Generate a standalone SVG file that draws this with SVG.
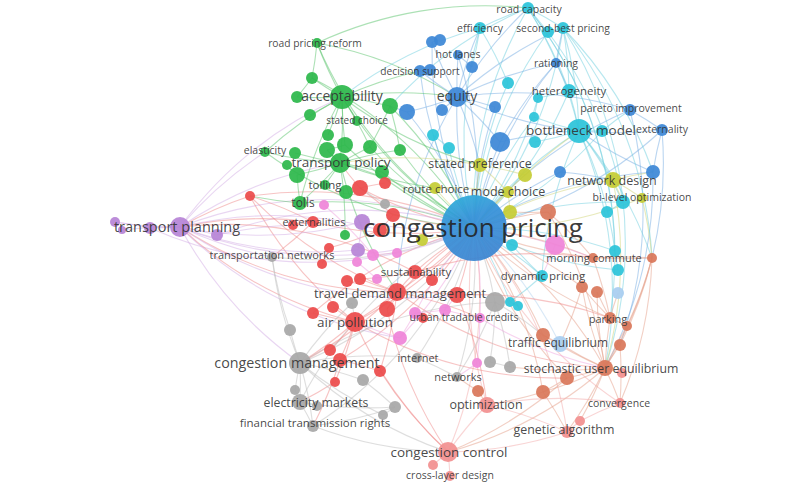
<svg xmlns="http://www.w3.org/2000/svg" width="800" height="485" viewBox="0 0 800 485">
<defs>
<linearGradient id="hubg" x1="0" y1="0" x2="0.4" y2="1">
<stop offset="0" stop-color="#2bb4da"/>
<stop offset="0.45" stop-color="#3491d8"/>
<stop offset="1" stop-color="#3b86d2"/>
</linearGradient>
</defs>
<style>
#connectors path{fill:none;stroke-width:1.1;stroke-opacity:.5}
.eg{stroke:#59c46c}.eb{stroke:#78aee4}.ec{stroke:#6fd0e0}.er{stroke:#f08a8a}.ep{stroke:#d4aee6}
.ek{stroke:#bdbdbd}.eo{stroke:#e6a08a}.ey{stroke:#d2d57a}.ei{stroke:#f0a6e0}.el{stroke:#f4acac}.elb{stroke:#b4d4f0}
circle{fill-opacity:.93}
.cg{fill:#2db84b}.cb{fill:#3d88d6}.cc{fill:#2cc4d9}.cr{fill:#ec4b4b}.cp{fill:#b784d6}.ck{fill:#a8a8a8}
.co{fill:#d9775a}.cy{fill:#c5cc35}.ci{fill:#ef84d8}.cl{fill:#f29090}.clb{fill:#a9cdf0}
text{font-family:"Open Sans","Liberation Sans",sans-serif;fill:#333;fill-opacity:.9;text-anchor:middle}
</style>
<rect width="800" height="485" fill="#fff"/>
<g id="connectors">
<path class="ec" d="M474 228A400 400 0 0 1 528 8"/>
<path class="ec" d="M474 228A400 400 0 0 1 480 28"/>
<path class="ec" d="M474 228A400 400 0 0 0 563 28"/>
<path class="ec" d="M474 228A400 400 0 0 1 548 32"/>
<path class="ec" d="M474 228A400 400 0 0 0 569 91"/>
<path class="ec" d="M474 228A400 400 0 0 1 579 131"/>
<path class="ec" d="M474 228A400 400 0 0 0 602 131"/>
<path class="ec" d="M474 228A400 400 0 0 1 508 83"/>
<path class="ec" d="M474 228A400 400 0 0 1 623 202"/>
<path class="ec" d="M474 228A400 400 0 0 1 542 276"/>
<path class="ec" d="M474 228A400 400 0 0 1 615 251"/>
<path class="ec" d="M474 228A400 400 0 0 0 618 270"/>
<path class="ec" d="M474 228A400 400 0 0 1 534 117"/>
<path class="ec" d="M474 228A400 400 0 0 0 538 98"/>
<path class="ec" d="M474 228A400 400 0 0 1 433 135"/>
<path class="ec" d="M474 228A400 400 0 0 1 449 148"/>
<path class="ec" d="M474 228A400 400 0 0 1 512 245"/>
<path class="ec" d="M474 228A400 400 0 0 1 510 302"/>
<path class="eb" d="M474 228A400 400 0 0 1 457 97"/>
<path class="eb" d="M474 228A400 400 0 0 1 420 71"/>
<path class="eb" d="M474 228A400 400 0 0 0 458 55"/>
<path class="eb" d="M474 228A400 400 0 0 1 432 42"/>
<path class="eb" d="M474 228A400 400 0 0 0 407 112"/>
<path class="eb" d="M474 228A400 400 0 0 1 495 107"/>
<path class="eb" d="M474 228A400 400 0 0 1 500 142"/>
<path class="eb" d="M474 228A400 400 0 0 1 556 63"/>
<path class="eb" d="M474 228A400 400 0 0 1 630 110"/>
<path class="eb" d="M474 228A400 400 0 0 0 662 130"/>
<path class="eb" d="M474 228A400 400 0 0 1 560 172"/>
<path class="eb" d="M474 228A400 400 0 0 1 653 172"/>
<path class="eg" d="M474 228A400 400 0 0 1 342 97"/>
<path class="eg" d="M474 228A400 400 0 0 1 317 43"/>
<path class="eg" d="M474 228A400 400 0 0 0 390 106"/>
<path class="eg" d="M474 228A400 400 0 0 1 370 147"/>
<path class="eg" d="M474 228A400 400 0 0 1 400 150"/>
<path class="eg" d="M474 228A400 400 0 0 0 340 163"/>
<path class="eg" d="M474 228A400 400 0 0 1 382 172"/>
<path class="eg" d="M474 228A400 400 0 0 1 265 152"/>
<path class="eg" d="M474 228A400 400 0 0 0 300 203"/>
<path class="eg" d="M474 228A400 400 0 0 1 345 145"/>
<path class="eg" d="M474 228A400 400 0 0 0 312 78"/>
<path class="ey" d="M474 228A400 400 0 0 1 480 165"/>
<path class="ey" d="M474 228A400 400 0 0 1 525 175"/>
<path class="ey" d="M474 228A400 400 0 0 1 435 188"/>
<path class="ey" d="M474 228A400 400 0 0 1 613 180"/>
<path class="ey" d="M474 228A400 400 0 0 0 642 198"/>
<path class="ey" d="M474 228A400 400 0 0 1 508 192"/>
<path class="ey" d="M474 228A400 400 0 0 1 510 212"/>
<path class="ey" d="M474 228A400 400 0 0 1 422 240"/>
<path class="er" d="M474 228A400 400 0 0 1 397 292"/>
<path class="er" d="M474 228A400 400 0 0 1 355 322"/>
<path class="er" d="M474 228A400 400 0 0 0 415 272"/>
<path class="er" d="M474 228A400 400 0 0 0 250 196"/>
<path class="er" d="M474 228A400 400 0 0 1 360 188"/>
<path class="er" d="M474 228A400 400 0 0 1 393 215"/>
<path class="er" d="M474 228A400 400 0 0 1 457 295"/>
<path class="er" d="M474 228A400 400 0 0 0 387 309"/>
<path class="er" d="M474 228A400 400 0 0 1 340 360"/>
<path class="er" d="M474 228A400 400 0 0 1 313 222"/>
<path class="er" d="M474 228A400 400 0 0 0 313 313"/>
<path class="ep" d="M474 228A400 400 0 0 1 180 227"/>
<path class="ep" d="M474 228A400 400 0 0 0 180 227"/>
<path class="ep" d="M474 228A400 400 0 0 1 362 222"/>
<path class="ep" d="M474 228A400 400 0 0 0 217 235"/>
<path class="ep" d="M474 228A400 400 0 0 1 150 228"/>
<path class="ek" d="M474 228A400 400 0 0 1 300 363"/>
<path class="ek" d="M474 228A400 400 0 0 1 272 257"/>
<path class="ek" d="M474 228A400 400 0 0 0 300 402"/>
<path class="ek" d="M474 228A400 400 0 0 1 495 302"/>
<path class="ek" d="M474 228A400 400 0 0 1 417 358"/>
<path class="ek" d="M474 228A400 400 0 0 1 457 377"/>
<path class="ek" d="M474 228A400 400 0 0 1 313 426"/>
<path class="ei" d="M474 228A400 400 0 0 1 480 318"/>
<path class="ei" d="M474 228A400 400 0 0 1 400 338"/>
<path class="ei" d="M474 228A400 400 0 0 1 555 245"/>
<path class="ei" d="M474 228A400 400 0 0 0 415 313"/>
<path class="eo" d="M474 228A400 400 0 0 1 605 368"/>
<path class="eo" d="M474 228A400 400 0 0 0 610 318"/>
<path class="eo" d="M474 228A400 400 0 0 1 548 212"/>
<path class="eo" d="M474 228A400 400 0 0 1 593 258"/>
<path class="eo" d="M474 228A400 400 0 0 0 652 258"/>
<path class="eo" d="M474 228A400 400 0 0 1 543 335"/>
<path class="eo" d="M474 228A400 400 0 0 0 567 378"/>
<path class="eo" d="M474 228A400 400 0 0 1 543 392"/>
<path class="eo" d="M474 228A400 400 0 0 1 582 287"/>
<path class="el" d="M474 228A400 400 0 0 1 448 452"/>
<path class="el" d="M474 228A400 400 0 0 0 487 405"/>
<path class="el" d="M474 228A400 400 0 0 1 567 432"/>
<path class="el" d="M474 228A400 400 0 0 0 620 403"/>
<path class="elb" d="M474 228A400 400 0 0 1 560 344"/>
<path class="eg" d="M342 97A400 400 0 0 1 317 43"/>
<path class="eg" d="M342 97A400 400 0 0 1 312 78"/>
<path class="eg" d="M342 97A400 400 0 0 1 297 97"/>
<path class="eg" d="M342 97A400 400 0 0 1 390 106"/>
<path class="eg" d="M342 97A400 400 0 0 1 310 115"/>
<path class="eg" d="M342 97A400 400 0 0 1 357 121"/>
<path class="eg" d="M342 97A400 400 0 0 1 328 135"/>
<path class="eg" d="M342 97A400 400 0 0 1 340 163"/>
<path class="eg" d="M342 97A400 400 0 0 0 345 145"/>
<path class="eg" d="M342 97A400 400 0 0 1 370 147"/>
<path class="eg" d="M342 97A400 400 0 0 0 265 152"/>
<path class="eg" d="M342 97A400 400 0 0 0 300 203"/>
<path class="eg" d="M340 163A400 400 0 0 1 265 152"/>
<path class="eg" d="M340 163A400 400 0 0 1 295 153"/>
<path class="eg" d="M340 163A400 400 0 0 1 297 175"/>
<path class="eg" d="M340 163A400 400 0 0 1 327 150"/>
<path class="eg" d="M340 163A400 400 0 0 1 370 147"/>
<path class="eg" d="M340 163A400 400 0 0 1 382 172"/>
<path class="eg" d="M340 163A400 400 0 0 1 325 185"/>
<path class="eg" d="M340 163A400 400 0 0 1 300 203"/>
<path class="eg" d="M340 163A400 400 0 0 1 400 150"/>
<path class="eg" d="M390 106A400 400 0 0 1 400 150"/>
<path class="eg" d="M390 106A400 400 0 0 1 370 147"/>
<path class="eg" d="M317 43A400 400 0 0 1 312 78"/>
<path class="eg" d="M317 43A400 400 0 0 1 457 97"/>
<path class="eg" d="M342 97A400 400 0 0 1 457 97"/>
<path class="eg" d="M342 97A400 400 0 0 1 420 71"/>
<path class="eg" d="M340 163A400 400 0 0 0 435 188"/>
<path class="ep" d="M265 152A400 400 0 0 0 180 227"/>
<path class="eg" d="M300 203A400 400 0 0 1 297 175"/>
<path class="eg" d="M312 78A400 400 0 0 1 297 97"/>
<path class="eg" d="M345 145A400 400 0 0 1 327 150"/>
<path class="eg" d="M340 163A400 400 0 0 1 345 235"/>
<path class="eg" d="M342 97A400 400 0 0 0 480 165"/>
<path class="eg" d="M317 43A400 400 0 0 1 528 8"/>
<path class="eg" d="M340 163A400 400 0 0 0 397 292"/>
<path class="eg" d="M300 203A400 400 0 0 1 250 196"/>
<path class="eb" d="M457 97A400 400 0 0 1 420 71"/>
<path class="eb" d="M457 97A400 400 0 0 1 458 55"/>
<path class="eb" d="M457 97A400 400 0 0 1 432 42"/>
<path class="eb" d="M457 97A400 400 0 0 1 407 112"/>
<path class="eb" d="M457 97A400 400 0 0 1 442 110"/>
<path class="eb" d="M457 97A400 400 0 0 1 495 107"/>
<path class="eb" d="M457 97A400 400 0 0 1 500 142"/>
<path class="eb" d="M457 97A400 400 0 0 0 579 131"/>
<path class="eb" d="M457 97A400 400 0 0 1 528 8"/>
<path class="eb" d="M457 97A400 400 0 0 1 563 28"/>
<path class="eb" d="M457 97A400 400 0 0 1 480 28"/>
<path class="eb" d="M457 97A400 400 0 0 1 556 63"/>
<path class="eb" d="M457 97A400 400 0 0 1 630 110"/>
<path class="eb" d="M420 71A400 400 0 0 1 430 70"/>
<path class="eb" d="M458 55A400 400 0 0 1 472 67"/>
<path class="eb" d="M432 42A400 400 0 0 1 440 40"/>
<path class="eb" d="M500 142A400 400 0 0 1 579 131"/>
<path class="eb" d="M500 142A400 400 0 0 1 556 63"/>
<path class="eb" d="M630 110A400 400 0 0 1 662 130"/>
<path class="eb" d="M662 130A400 400 0 0 1 579 131"/>
<path class="eb" d="M653 172A400 400 0 0 1 579 131"/>
<path class="eb" d="M653 172A400 400 0 0 1 662 130"/>
<path class="eb" d="M556 63A400 400 0 0 1 563 28"/>
<path class="eb" d="M556 63A400 400 0 0 1 569 91"/>
<path class="eb" d="M407 112A400 400 0 0 1 390 106"/>
<path class="eb" d="M457 97A400 400 0 0 1 480 165"/>
<path class="eb" d="M457 97A400 400 0 0 0 397 292"/>
<path class="eb" d="M630 110A400 400 0 0 1 620 345"/>
<path class="eb" d="M662 130A400 400 0 0 1 652 258"/>
<path class="eb" d="M653 172A400 400 0 0 1 605 368"/>
<path class="eb" d="M560 172A400 400 0 0 1 613 180"/>
<path class="ec" d="M528 8A400 400 0 0 0 480 28"/>
<path class="ec" d="M528 8A400 400 0 0 1 563 28"/>
<path class="ec" d="M528 8A400 400 0 0 1 579 131"/>
<path class="ec" d="M528 8A400 400 0 0 1 569 91"/>
<path class="ec" d="M563 28A400 400 0 0 1 548 32"/>
<path class="ec" d="M563 28A400 400 0 0 1 579 131"/>
<path class="ec" d="M563 28A400 400 0 0 1 569 91"/>
<path class="ec" d="M480 28A400 400 0 0 1 508 83"/>
<path class="ec" d="M569 91A400 400 0 0 1 579 131"/>
<path class="ec" d="M569 91A400 400 0 0 1 538 98"/>
<path class="ec" d="M579 131A400 400 0 0 1 602 131"/>
<path class="ec" d="M579 131A400 400 0 0 1 534 117"/>
<path class="ec" d="M579 131A400 400 0 0 1 535 142"/>
<path class="ec" d="M579 131A400 400 0 0 1 613 180"/>
<path class="ec" d="M579 131A400 400 0 0 1 623 202"/>
<path class="ec" d="M602 131A400 400 0 0 1 630 110"/>
<path class="ec" d="M538 98A400 400 0 0 1 534 117"/>
<path class="ec" d="M433 135A400 400 0 0 1 449 148"/>
<path class="ec" d="M528 8A400 400 0 0 1 623 202"/>
<path class="ec" d="M563 28A400 400 0 0 1 653 172"/>
<path class="ec" d="M480 28A400 400 0 0 1 472 67"/>
<path class="ec" d="M542 276A400 400 0 0 1 512 245"/>
<path class="ec" d="M615 251A400 400 0 0 1 618 270"/>
<path class="ec" d="M623 202A400 400 0 0 1 607 212"/>
<path class="ec" d="M579 131A400 400 0 0 1 652 258"/>
<path class="ec" d="M528 8A400 400 0 0 1 615 251"/>
<path class="ec" d="M563 28A400 400 0 0 1 652 258"/>
<path class="ec" d="M563 28A400 400 0 0 1 605 368"/>
<path class="ec" d="M528 8A400 400 0 0 1 610 318"/>
<path class="ec" d="M579 131A400 400 0 0 1 615 251"/>
<path class="ec" d="M579 131A400 400 0 0 0 542 276"/>
<path class="ec" d="M542 276A400 400 0 0 1 510 302"/>
<path class="ec" d="M510 302A400 400 0 0 1 518 306"/>
<path class="ec" d="M528 8A400 400 0 0 0 390 106"/>
<path class="ec" d="M480 28A400 400 0 0 0 342 97"/>
<path class="ec" d="M579 131A400 400 0 0 1 605 368"/>
<path class="ey" d="M613 180A400 400 0 0 1 642 198"/>
<path class="ey" d="M613 180A400 400 0 0 1 623 202"/>
<path class="ey" d="M480 165A400 400 0 0 1 525 175"/>
<path class="ey" d="M508 192A400 400 0 0 1 510 212"/>
<path class="ey" d="M435 188A400 400 0 0 1 508 192"/>
<path class="ey" d="M480 165A400 400 0 0 1 508 192"/>
<path class="ey" d="M525 175A400 400 0 0 1 579 131"/>
<path class="ey" d="M613 180A400 400 0 0 1 653 172"/>
<path class="ey" d="M642 198A400 400 0 0 1 652 258"/>
<path class="ey" d="M613 180A400 400 0 0 1 605 368"/>
<path class="ey" d="M480 165A400 400 0 0 0 340 163"/>
<path class="er" d="M397 292A400 400 0 0 1 355 322"/>
<path class="er" d="M397 292A400 400 0 0 1 415 272"/>
<path class="er" d="M397 292A400 400 0 0 1 457 295"/>
<path class="er" d="M397 292A400 400 0 0 1 387 309"/>
<path class="er" d="M397 292A400 400 0 0 1 347 281"/>
<path class="er" d="M397 292A400 400 0 0 1 360 279"/>
<path class="er" d="M355 322A400 400 0 0 1 313 313"/>
<path class="er" d="M355 322A400 400 0 0 1 333 307"/>
<path class="er" d="M355 322A400 400 0 0 1 330 350"/>
<path class="er" d="M355 322A400 400 0 0 1 340 360"/>
<path class="er" d="M355 322A400 400 0 0 1 300 363"/>
<path class="er" d="M415 272A400 400 0 0 1 432 280"/>
<path class="er" d="M415 272A400 400 0 0 1 360 279"/>
<path class="er" d="M360 188A400 400 0 0 1 385 183"/>
<path class="er" d="M360 188A400 400 0 0 1 393 215"/>
<path class="er" d="M393 215A400 400 0 0 1 380 230"/>
<path class="er" d="M380 230A400 400 0 0 1 329 248"/>
<path class="er" d="M329 248A400 400 0 0 1 322 264"/>
<path class="er" d="M250 196A400 400 0 0 0 180 227"/>
<path class="er" d="M250 196A400 400 0 0 1 313 222"/>
<path class="er" d="M313 222A400 400 0 0 1 293 225"/>
<path class="er" d="M313 222A400 400 0 0 1 272 257"/>
<path class="er" d="M313 222A400 400 0 0 0 180 227"/>
<path class="er" d="M397 292A400 400 0 0 1 300 363"/>
<path class="er" d="M397 292A400 400 0 0 1 380 371"/>
<path class="er" d="M340 360A400 400 0 0 1 380 371"/>
<path class="er" d="M380 371A400 400 0 0 0 448 452"/>
<path class="er" d="M355 322A400 400 0 0 0 448 452"/>
<path class="er" d="M457 295A400 400 0 0 1 487 405"/>
<path class="er" d="M397 292A400 400 0 0 1 480 318"/>
<path class="er" d="M360 188A400 400 0 0 1 340 163"/>
<path class="er" d="M397 292A400 400 0 0 1 180 227"/>
<path class="er" d="M415 272A400 400 0 0 0 180 227"/>
<path class="er" d="M355 322A400 400 0 0 1 180 227"/>
<path class="er" d="M335 382A400 400 0 0 1 300 402"/>
<path class="er" d="M340 360A400 400 0 0 1 313 426"/>
<path class="er" d="M250 196A400 400 0 0 0 397 292"/>
<path class="er" d="M250 196A400 400 0 0 0 355 322"/>
<path class="er" d="M397 292A400 400 0 0 0 605 368"/>
<path class="er" d="M355 322A400 400 0 0 0 567 378"/>
<path class="er" d="M457 295A400 400 0 0 1 610 318"/>
<path class="er" d="M415 272A400 400 0 0 1 593 258"/>
<path class="er" d="M387 309A400 400 0 0 0 448 452"/>
<path class="er" d="M355 322A400 400 0 0 1 335 382"/>
<path class="ep" d="M180 227A400 400 0 0 1 115 222"/>
<path class="ep" d="M180 227A400 400 0 0 0 122 230"/>
<path class="ep" d="M180 227A400 400 0 0 1 150 228"/>
<path class="ep" d="M180 227A400 400 0 0 1 217 235"/>
<path class="ep" d="M115 222A400 400 0 0 1 150 228"/>
<path class="ep" d="M180 227A400 400 0 0 0 362 222"/>
<path class="ep" d="M180 227A400 400 0 0 0 358 250"/>
<path class="ep" d="M180 227A400 400 0 0 1 340 163"/>
<path class="ep" d="M180 227A400 400 0 0 0 272 257"/>
<path class="ep" d="M180 227A400 400 0 0 0 300 363"/>
<path class="ep" d="M362 222A400 400 0 0 1 358 250"/>
<path class="ep" d="M217 235A400 400 0 0 1 293 225"/>
<path class="ep" d="M180 227A400 400 0 0 0 400 338"/>
<path class="ep" d="M180 227A400 400 0 0 0 457 295"/>
<path class="ep" d="M180 227A400 400 0 0 1 342 97"/>
<path class="ep" d="M180 227A400 400 0 0 1 380 230"/>
<path class="ek" d="M300 363A400 400 0 0 1 290 330"/>
<path class="ek" d="M300 363A400 400 0 0 1 300 402"/>
<path class="ek" d="M300 363A400 400 0 0 1 313 426"/>
<path class="ek" d="M300 363A400 400 0 0 0 295 390"/>
<path class="ek" d="M300 363A400 400 0 0 1 363 380"/>
<path class="ek" d="M300 363A400 400 0 0 1 272 257"/>
<path class="ek" d="M300 402A400 400 0 0 1 313 426"/>
<path class="ek" d="M300 402A400 400 0 0 1 317 406"/>
<path class="ek" d="M300 402A400 400 0 0 1 295 390"/>
<path class="ek" d="M363 380A400 400 0 0 1 395 407"/>
<path class="ek" d="M395 407A400 400 0 0 1 383 415"/>
<path class="ek" d="M300 363A400 400 0 0 1 417 358"/>
<path class="ek" d="M417 358A400 400 0 0 1 457 377"/>
<path class="ek" d="M457 377A400 400 0 0 0 495 302"/>
<path class="ek" d="M495 302A400 400 0 0 1 490 362"/>
<path class="ek" d="M490 362A400 400 0 0 1 510 367"/>
<path class="ek" d="M300 363A400 400 0 0 1 352 303"/>
<path class="ek" d="M352 303A400 400 0 0 1 355 322"/>
<path class="ek" d="M300 363A400 400 0 0 0 448 452"/>
<path class="ek" d="M300 363A400 400 0 0 0 383 415"/>
<path class="ek" d="M290 330A400 400 0 0 1 272 257"/>
<path class="ek" d="M495 302A400 400 0 0 1 510 367"/>
<path class="ek" d="M313 426A400 400 0 0 0 395 407"/>
<path class="ek" d="M300 402A400 400 0 0 0 395 407"/>
<path class="ek" d="M385 204A400 400 0 0 1 360 188"/>
<path class="ek" d="M495 302A400 400 0 0 1 543 335"/>
<path class="ek" d="M300 363A400 400 0 0 1 495 302"/>
<path class="ek" d="M313 426A400 400 0 0 0 448 452"/>
<path class="ei" d="M480 318A400 400 0 0 1 445 310"/>
<path class="ei" d="M445 310A400 400 0 0 1 415 313"/>
<path class="ei" d="M415 313A400 400 0 0 1 400 338"/>
<path class="ei" d="M480 318A400 400 0 0 1 477 363"/>
<path class="ei" d="M555 245A400 400 0 0 1 593 258"/>
<path class="ei" d="M324 205A400 400 0 0 1 373 255"/>
<path class="ei" d="M373 255A400 400 0 0 1 397 253"/>
<path class="ei" d="M357 262A400 400 0 0 1 377 279"/>
<path class="ei" d="M400 338A400 400 0 0 1 355 322"/>
<path class="ei" d="M477 363A400 400 0 0 1 457 377"/>
<path class="ei" d="M480 318A400 400 0 0 0 605 368"/>
<path class="ei" d="M445 310A400 400 0 0 1 457 295"/>
<path class="ei" d="M555 245A400 400 0 0 1 542 276"/>
<path class="eo" d="M605 368A400 400 0 0 1 610 318"/>
<path class="eo" d="M605 368A400 400 0 0 1 627 326"/>
<path class="eo" d="M605 368A400 400 0 0 1 543 335"/>
<path class="eo" d="M605 368A400 400 0 0 1 620 345"/>
<path class="eo" d="M605 368A400 400 0 0 1 567 378"/>
<path class="eo" d="M605 368A400 400 0 0 1 543 392"/>
<path class="eo" d="M605 368A400 400 0 0 1 620 403"/>
<path class="eo" d="M605 368A400 400 0 0 1 622 373"/>
<path class="eo" d="M605 368A400 400 0 0 1 560 344"/>
<path class="eo" d="M605 368A400 400 0 0 1 582 287"/>
<path class="eo" d="M605 368A400 400 0 0 1 597 292"/>
<path class="eo" d="M605 368A400 400 0 0 1 567 432"/>
<path class="eo" d="M605 368A400 400 0 0 1 580 421"/>
<path class="eo" d="M610 318A400 400 0 0 1 627 326"/>
<path class="eo" d="M610 318A400 400 0 0 1 582 287"/>
<path class="eo" d="M610 318A400 400 0 0 1 597 292"/>
<path class="eo" d="M548 212A400 400 0 0 1 593 258"/>
<path class="eo" d="M548 212A400 400 0 0 1 510 212"/>
<path class="eo" d="M593 258A400 400 0 0 1 652 258"/>
<path class="eo" d="M652 258A400 400 0 0 1 627 326"/>
<path class="eo" d="M543 335A400 400 0 0 1 560 344"/>
<path class="eo" d="M567 378A400 400 0 0 1 543 392"/>
<path class="eo" d="M543 392A400 400 0 0 1 567 432"/>
<path class="eo" d="M543 392A400 400 0 0 1 487 405"/>
<path class="eo" d="M478 391A400 400 0 0 1 487 405"/>
<path class="eo" d="M478 391A400 400 0 0 1 457 377"/>
<path class="eo" d="M567 378A400 400 0 0 1 448 452"/>
<path class="eo" d="M605 368A400 400 0 0 1 448 452"/>
<path class="eo" d="M620 345A400 400 0 0 1 620 403"/>
<path class="eo" d="M652 258A400 400 0 0 1 620 345"/>
<path class="eo" d="M605 368A400 400 0 0 1 510 367"/>
<path class="eo" d="M610 318A400 400 0 0 1 618 293"/>
<path class="eo" d="M582 287A400 400 0 0 1 560 344"/>
<path class="eo" d="M652 258A400 400 0 0 1 620 403"/>
<path class="eo" d="M652 258A400 400 0 0 1 605 368"/>
<path class="eo" d="M548 212A400 400 0 0 1 605 368"/>
<path class="eo" d="M593 258A400 400 0 0 1 610 318"/>
<path class="el" d="M448 452A400 400 0 0 1 433 465"/>
<path class="el" d="M448 452A400 400 0 0 1 450 476"/>
<path class="el" d="M448 452A400 400 0 0 1 487 405"/>
<path class="el" d="M487 405A400 400 0 0 1 567 432"/>
<path class="el" d="M567 432A400 400 0 0 1 580 421"/>
<path class="el" d="M580 421A400 400 0 0 1 620 403"/>
<path class="el" d="M448 452A400 400 0 0 0 567 432"/>
<path class="el" d="M487 405A400 400 0 0 1 620 403"/>
</g>
<g id="nodes">
<g id="n-g3"><circle class="cg" cx="312" cy="78" r="6"/></g>
<g id="n-g4"><circle class="cg" cx="297" cy="97" r="6"/></g>
<g id="n-g5"><circle class="cg" cx="390" cy="106" r="8"/></g>
<g id="n-g6"><circle class="cg" cx="310" cy="115" r="6"/></g>
<g id="n-g8"><circle class="cg" cx="328" cy="135" r="6"/></g>
<g id="n-g9"><circle class="cg" cx="345" cy="145" r="8"/></g>
<g id="n-g10"><circle class="cg" cx="327" cy="150" r="8"/></g>
<g id="n-g11"><circle class="cg" cx="370" cy="147" r="7"/></g>
<g id="n-g12"><circle class="cg" cx="400" cy="150" r="6"/></g>
<g id="n-g14"><circle class="cg" cx="295" cy="153" r="6"/></g>
<g id="n-g15"><circle class="cg" cx="287" cy="165" r="5"/></g>
<g id="n-g17"><circle class="cg" cx="297" cy="175" r="8"/></g>
<g id="n-g18"><circle class="cg" cx="382" cy="172" r="7"/></g>
<g id="n-g19b"><circle class="cg" cx="346" cy="192" r="7"/></g>
<g id="n-g21"><circle class="cg" cx="345" cy="235" r="5"/></g>
<g id="n-b3"><circle class="cb" cx="430" cy="70" r="6"/></g>
<g id="n-b5"><circle class="cb" cx="472" cy="67" r="6"/></g>
<g id="n-b6"><circle class="cb" cx="432" cy="42" r="6"/></g>
<g id="n-b7"><circle class="cb" cx="440" cy="40" r="6"/></g>
<g id="n-b8"><circle class="cb" cx="407" cy="112" r="8"/></g>
<g id="n-b9"><circle class="cb" cx="442" cy="110" r="6"/></g>
<g id="n-b10"><circle class="cb" cx="495" cy="107" r="6"/></g>
<g id="n-b11"><circle class="cb" cx="500" cy="142" r="10"/></g>
<g id="n-b15"><circle class="cb" cx="560" cy="172" r="6"/></g>
<g id="n-b16"><circle class="cb" cx="653" cy="172" r="7"/></g>
<g id="n-c4"><circle class="cc" cx="548" cy="32" r="6"/></g>
<g id="n-c6"><circle class="cc" cx="538" cy="98" r="5"/></g>
<g id="n-c8"><circle class="cc" cx="602" cy="131" r="6"/></g>
<g id="n-c9"><circle class="cc" cx="534" cy="117" r="5"/></g>
<g id="n-c10"><circle class="cc" cx="535" cy="142" r="6"/></g>
<g id="n-c11"><circle class="cc" cx="508" cy="83" r="6"/></g>
<g id="n-c12"><circle class="cc" cx="433" cy="135" r="6"/></g>
<g id="n-c13"><circle class="cc" cx="449" cy="148" r="6"/></g>
<g id="n-c16"><circle class="cc" cx="623" cy="202" r="7"/></g>
<g id="n-c17"><circle class="cc" cx="607" cy="212" r="6"/></g>
<g id="n-c20"><circle class="cc" cx="512" cy="245" r="6"/></g>
<g id="n-c21"><circle class="cc" cx="615" cy="251" r="6"/></g>
<g id="n-c22"><circle class="cc" cx="618" cy="270" r="6"/></g>
<g id="n-c23"><circle class="cc" cx="510" cy="302" r="5"/></g>
<g id="n-c24"><circle class="cc" cx="518" cy="306" r="5"/></g>
<g id="n-y2"><circle class="cy" cx="525" cy="175" r="7"/></g>
<g id="n-y5"><circle class="cy" cx="510" cy="212" r="7"/></g>
<g id="n-y8"><circle class="cy" cx="422" cy="240" r="6"/></g>
<g id="n-r4"><circle class="cr" cx="250" cy="196" r="5"/></g>
<g id="n-r5b"><circle class="cr" cx="293" cy="225" r="5"/></g>
<g id="n-r6"><circle class="cr" cx="360" cy="188" r="8"/></g>
<g id="n-r7"><circle class="cr" cx="385" cy="183" r="6"/></g>
<g id="n-r8"><circle class="cr" cx="393" cy="215" r="7"/></g>
<g id="n-r9"><circle class="cr" cx="380" cy="230" r="7"/></g>
<g id="n-r10"><circle class="cr" cx="329" cy="248" r="5"/></g>
<g id="n-r11"><circle class="cr" cx="322" cy="264" r="5"/></g>
<g id="n-r12"><circle class="cr" cx="347" cy="281" r="6"/></g>
<g id="n-r13"><circle class="cr" cx="360" cy="279" r="6"/></g>
<g id="n-r14"><circle class="cr" cx="457" cy="295" r="8"/></g>
<g id="n-r15"><circle class="cr" cx="432" cy="280" r="6"/></g>
<g id="n-r16"><circle class="cr" cx="313" cy="313" r="6"/></g>
<g id="n-r17"><circle class="cr" cx="333" cy="307" r="6"/></g>
<g id="n-r18"><circle class="cr" cx="387" cy="309" r="8"/></g>
<g id="n-r19"><circle class="cr" cx="330" cy="350" r="6"/></g>
<g id="n-r20"><circle class="cr" cx="340" cy="360" r="7"/></g>
<g id="n-r21"><circle class="cr" cx="380" cy="371" r="6"/></g>
<g id="n-r22"><circle class="cr" cx="335" cy="382" r="5"/></g>
<g id="n-r23"><circle class="cr" cx="423" cy="318" r="5"/></g>
<g id="n-p2"><circle class="cp" cx="115" cy="222" r="5"/></g>
<g id="n-p3"><circle class="cp" cx="122" cy="230" r="4"/></g>
<g id="n-p4"><circle class="cp" cx="150" cy="228" r="6"/></g>
<g id="n-p5"><circle class="cp" cx="217" cy="235" r="6"/></g>
<g id="n-p6"><circle class="cp" cx="362" cy="222" r="8"/></g>
<g id="n-p7"><circle class="cp" cx="358" cy="250" r="7"/></g>
<g id="n-k3"><circle class="ck" cx="385" cy="204" r="5"/></g>
<g id="n-k4"><circle class="ck" cx="290" cy="330" r="6"/></g>
<g id="n-k5b"><circle class="ck" cx="317" cy="406" r="5"/></g>
<g id="n-k7"><circle class="ck" cx="295" cy="390" r="5"/></g>
<g id="n-k8"><circle class="ck" cx="363" cy="380" r="6"/></g>
<g id="n-k9"><circle class="ck" cx="395" cy="407" r="6"/></g>
<g id="n-k10"><circle class="ck" cx="383" cy="415" r="5"/></g>
<g id="n-k13"><circle class="ck" cx="352" cy="303" r="6"/></g>
<g id="n-k14"><circle class="ck" cx="495" cy="302" r="10"/></g>
<g id="n-k15"><circle class="ck" cx="490" cy="362" r="6"/></g>
<g id="n-k16"><circle class="ck" cx="510" cy="367" r="6"/></g>
<g id="n-i2"><circle class="ci" cx="445" cy="310" r="6"/></g>
<g id="n-i3"><circle class="ci" cx="415" cy="313" r="6"/></g>
<g id="n-i4"><circle class="ci" cx="324" cy="205" r="5"/></g>
<g id="n-i5"><circle class="ci" cx="373" cy="255" r="6"/></g>
<g id="n-i6"><circle class="ci" cx="397" cy="253" r="5"/></g>
<g id="n-i7"><circle class="ci" cx="357" cy="262" r="5"/></g>
<g id="n-i9"><circle class="ci" cx="377" cy="279" r="5"/></g>
<g id="n-i10"><circle class="ci" cx="400" cy="338" r="7"/></g>
<g id="n-i11"><circle class="ci" cx="477" cy="363" r="5"/></g>
<g id="n-i12"><circle class="ci" cx="555" cy="245" r="10"/></g>
<g id="n-o3"><circle class="co" cx="627" cy="326" r="5"/></g>
<g id="n-o4"><circle class="co" cx="548" cy="212" r="8"/></g>
<g id="n-o6"><circle class="co" cx="652" cy="258" r="5"/></g>
<g id="n-o7"><circle class="co" cx="582" cy="287" r="6"/></g>
<g id="n-o8"><circle class="co" cx="597" cy="292" r="6"/></g>
<g id="n-o9"><circle class="co" cx="543" cy="335" r="7"/></g>
<g id="n-o10"><circle class="co" cx="620" cy="345" r="6"/></g>
<g id="n-o11"><circle class="co" cx="567" cy="378" r="7"/></g>
<g id="n-o12"><circle class="co" cx="543" cy="392" r="7"/></g>
<g id="n-o14"><circle class="co" cx="478" cy="391" r="6"/></g>
<g id="n-l2"><circle class="cl" cx="433" cy="465" r="5"/></g>
<g id="n-l5"><circle class="cl" cx="580" cy="421" r="5"/></g>
<g id="n-l7"><circle class="cl" cx="622" cy="373" r="5"/></g>
<g id="n-lb2"><circle class="clb" cx="618" cy="293" r="6"/></g>
<g id="road-capacity"><circle class="cc" cx="528" cy="8" r="6"/><text x="529" y="12.5" font-size="10.5">road capacity</text></g>
<g id="efficiency"><circle class="cc" cx="480" cy="28" r="6"/><text x="480" y="31.5" font-size="10.5">efficiency</text></g>
<g id="second-best-pricing"><circle class="cc" cx="563" cy="28" r="6"/><text x="563" y="31.5" font-size="10.3">second-best pricing</text></g>
<g id="road-pricing-reform"><circle class="cg" cx="317" cy="43" r="5"/><text x="315" y="46.5" font-size="10.3">road pricing reform</text></g>
<g id="hot-lanes"><circle class="cb" cx="458" cy="55" r="5"/><text x="458" y="58" font-size="10.5">hot lanes</text></g>
<g id="rationing"><circle class="cb" cx="556" cy="63" r="5"/><text x="556" y="66.5" font-size="10.5">rationing</text></g>
<g id="decision-support"><circle class="cb" cx="420" cy="71" r="6"/><text x="420" y="74.5" font-size="10.2">decision support</text></g>
<g id="acceptability"><circle class="cg" cx="342" cy="97" r="12"/><text x="342" y="100.5" font-size="14">acceptability</text></g>
<g id="equity"><circle class="cb" cx="457" cy="97" r="10"/><text x="457" y="100.5" font-size="14">equity</text></g>
<g id="heterogeneity"><circle class="cc" cx="569" cy="91" r="7"/><text x="569" y="95" font-size="11.5">heterogeneity</text></g>
<g id="pareto-improvement"><circle class="cb" cx="630" cy="110" r="6"/><text x="631" y="111.5" font-size="10.5">pareto improvement</text></g>
<g id="stated-choice"><circle class="cg" cx="357" cy="121" r="5"/><text x="357" y="123.5" font-size="10">stated choice</text></g>
<g id="bottleneck-model"><circle class="cc" cx="579" cy="131" r="12"/><text x="581" y="134.5" font-size="13.5">bottleneck model</text></g>
<g id="externality"><circle class="cb" cx="662" cy="130" r="6"/><text x="662" y="132.5" font-size="10.5">externality</text></g>
<g id="elasticity"><circle class="cg" cx="265" cy="152" r="5"/><text x="265" y="153.5" font-size="10.5">elasticity</text></g>
<g id="transport-policy"><circle class="cg" cx="340" cy="163" r="10"/><text x="341" y="166.5" font-size="13.5">transport policy</text></g>
<g id="stated-preference"><circle class="cy" cx="480" cy="165" r="7"/><text x="480" y="168" font-size="12.5">stated preference</text></g>
<g id="tolling"><circle class="cg" cx="325" cy="185" r="5"/><text x="325" y="189" font-size="11.5">tolling</text></g>
<g id="route-choice"><circle class="cy" cx="435" cy="188" r="6"/><text x="436" y="193" font-size="11.5">route choice</text></g>
<g id="mode-choice"><circle class="cy" cx="508" cy="192" r="6"/><text x="508" y="196" font-size="12.5">mode choice</text></g>
<g id="network-design"><circle class="cy" cx="613" cy="180" r="8"/><text x="612" y="185" font-size="12.5">network design</text></g>
<g id="bi-level-optimization"><circle class="cy" cx="642" cy="198" r="5"/><text x="642" y="200.5" font-size="10.5">bi-level optimization</text></g>
<g id="tolls"><circle class="cg" cx="300" cy="203" r="7"/><text x="303" y="207" font-size="12">tolls</text></g>
<g id="externalities"><circle class="cr" cx="313" cy="222" r="6"/><text x="314" y="225.5" font-size="11">externalities</text></g>
<g id="transport-planning"><circle class="cp" cx="180" cy="227" r="10"/><text x="177" y="232" font-size="14.5">transport planning</text></g>
<g id="transportation-networks"><circle class="ck" cx="272" cy="257" r="5"/><text x="272" y="258.5" font-size="11">transportation networks</text></g>
<g id="morning-commute"><circle class="co" cx="593" cy="258" r="5"/><text x="594" y="261.5" font-size="11">morning commute</text></g>
<g id="sustainability"><circle class="cr" cx="415" cy="272" r="7"/><text x="416" y="276" font-size="11.5">sustainability</text></g>
<g id="dynamic-pricing"><circle class="cc" cx="542" cy="276" r="6"/><text x="543" y="280" font-size="11.5">dynamic pricing</text></g>
<g id="travel-demand-management"><circle class="cr" cx="397" cy="292" r="9"/><text x="400" y="297.5" font-size="13">travel demand management</text></g>
<g id="urban-tradable-credits"><circle class="ci" cx="480" cy="318" r="5"/><text x="464" y="320.5" font-size="10.5">urban tradable credits</text></g>
<g id="parking"><circle class="co" cx="610" cy="318" r="6"/><text x="608" y="322.5" font-size="11">parking</text></g>
<g id="air-pollution"><circle class="cr" cx="355" cy="322" r="10"/><text x="355" y="326.5" font-size="13.5">air pollution</text></g>
<g id="traffic-equilibrium"><circle class="clb" cx="560" cy="344" r="8"/><text x="558" y="347" font-size="12">traffic equilibrium</text></g>
<g id="congestion-management"><circle class="ck" cx="300" cy="363" r="11"/><text x="297" y="368" font-size="14.3">congestion management</text></g>
<g id="internet"><circle class="ck" cx="417" cy="358" r="5"/><text x="418" y="361.5" font-size="11">internet</text></g>
<g id="stochastic-user-equilibrium"><circle class="co" cx="605" cy="368" r="8"/><text x="601" y="373" font-size="12.3">stochastic user equilibrium</text></g>
<g id="networks"><circle class="ck" cx="457" cy="377" r="5"/><text x="458" y="380.5" font-size="11">networks</text></g>
<g id="electricity-markets"><circle class="ck" cx="300" cy="402" r="8"/><text x="316" y="407" font-size="12.3">electricity markets</text></g>
<g id="optimization"><circle class="cl" cx="487" cy="405" r="8"/><text x="486" y="409" font-size="12.5">optimization</text></g>
<g id="convergence"><circle class="cl" cx="620" cy="403" r="5"/><text x="619" y="406.5" font-size="10.5">convergence</text></g>
<g id="financial-transmission-rights"><circle class="ck" cx="313" cy="426" r="6"/><text x="315" y="427" font-size="11.5">financial transmission rights</text></g>
<g id="genetic-algorithm"><circle class="cl" cx="567" cy="432" r="6"/><text x="564" y="434" font-size="12.4">genetic algorithm</text></g>
<g id="congestion-control"><circle class="cl" cx="448" cy="452" r="10"/><text x="449" y="456.5" font-size="13.5">congestion control</text></g>
<g id="cross-layer-design"><circle class="cl" cx="450" cy="476" r="5"/><text x="450" y="478.5" font-size="10.5">cross-layer design</text></g>
<g id="congestion-pricing"><circle cx="474" cy="228" r="33" fill="url(#hubg)"/><text x="473" y="237" font-size="25.8" style="fill:#222">congestion pricing</text></g>
</g>
</svg>
